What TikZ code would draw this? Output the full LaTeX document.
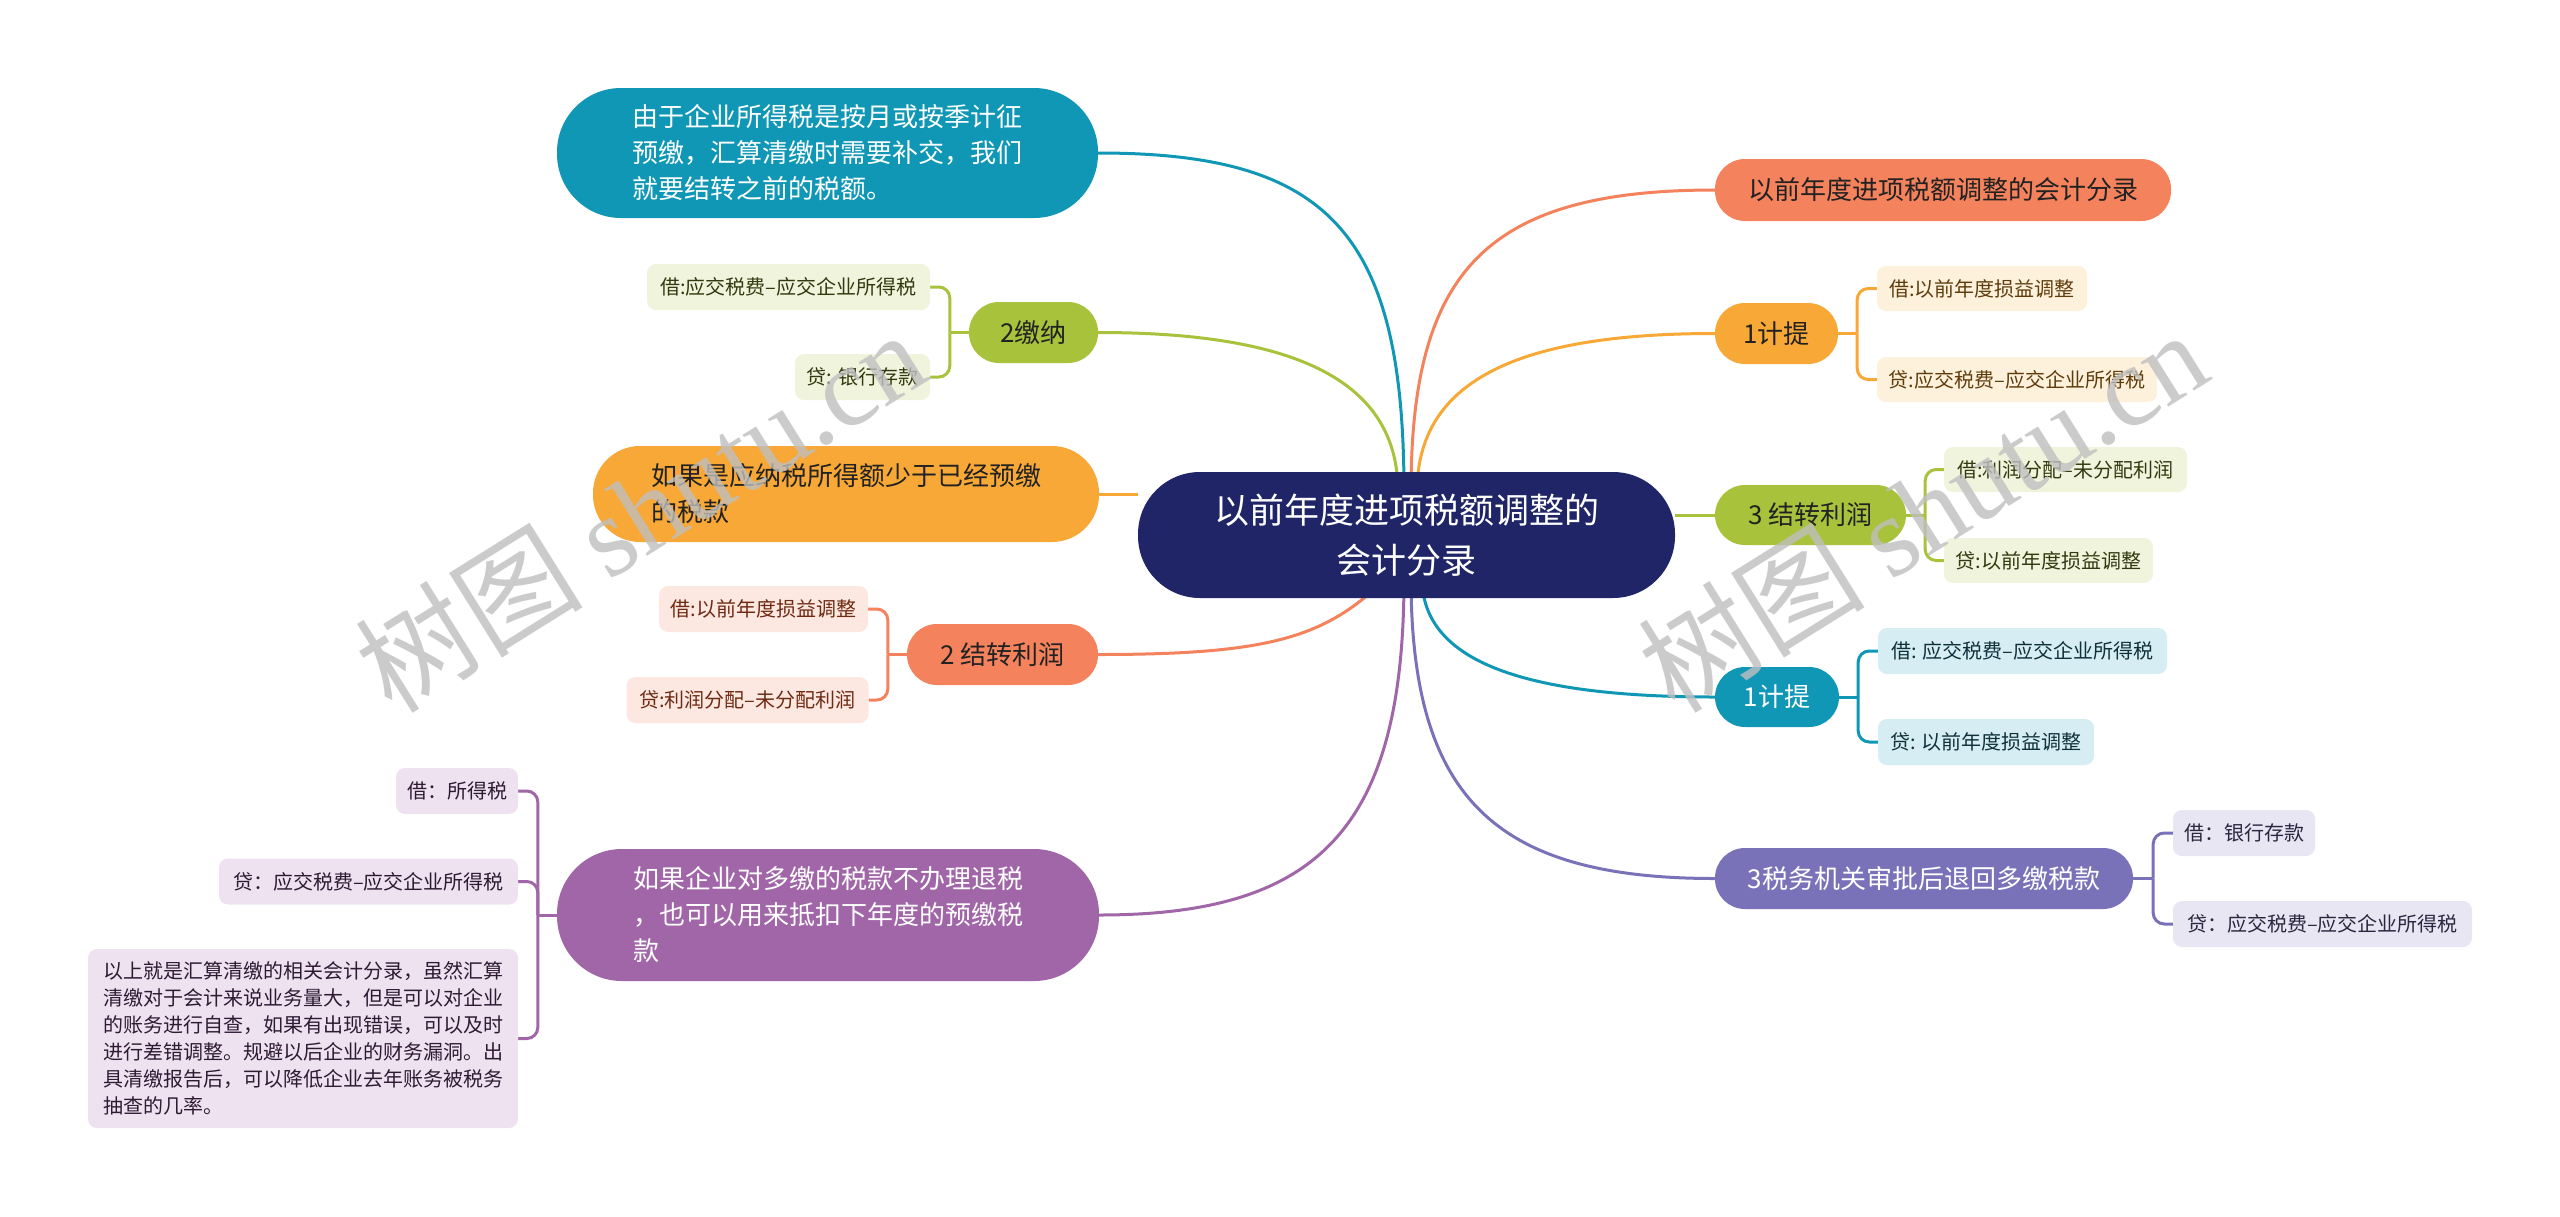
\documentclass[tikz,border=0pt]{standalone}
\usepackage{fontspec}
\setmainfont{Noto Sans CJK SC}
\newfontfamily\wmserif{Liberation Serif}
\usetikzlibrary{backgrounds}
\definecolor{croot}{HTML}{1F2566}
\definecolor{cteal}{HTML}{1097B5}
\definecolor{cgreen}{HTML}{A8C23C}
\definecolor{corange}{HTML}{F8A836}
\definecolor{ccoral}{HTML}{F4825C}
\definecolor{cpurple}{HTML}{A066A8}
\definecolor{cviolet}{HTML}{7A72B8}
\definecolor{lgreen}{HTML}{F1F4DD}
\definecolor{lorange}{HTML}{FEF1DC}
\definecolor{lcoral}{HTML}{FCE8E1}
\definecolor{lteal}{HTML}{D6EEF3}
\definecolor{lpurple}{HTML}{EEE2F0}
\definecolor{lviolet}{HTML}{E8E6F3}
\definecolor{tgreen}{HTML}{333A10}
\definecolor{torange}{HTML}{5E3C0C}
\definecolor{tcoral}{HTML}{6E2A12}
\definecolor{tteal}{HTML}{10303A}
\definecolor{tpurple}{HTML}{2E1A33}
\definecolor{tviolet}{HTML}{2A2740}
\definecolor{tdark}{HTML}{222222}
\begin{document}
\begin{tikzpicture}[x=1pt,y=-1pt,
  mainnode/.style={inner sep=0pt, align=center, minimum height=61pt, rounded corners=30pt,
    font=\fontsize{26}{36}\selectfont},
  leaf/.style={inner sep=0pt, align=center, minimum height=46pt, rounded corners=9pt,
    font=\fontsize{20}{27}\selectfont},
  conn/.style={line width=3pt},
  brk/.style={line width=3pt, rounded corners=11pt},
  wm/.style={rotate=32, text=black!25, opacity=0.8, font=\fontsize{114}{114}\selectfont}
]
\useasboundingbox (0,0) rectangle (2560,1216);

% root
\node[inner sep=0pt, align=center, minimum width=537pt, minimum height=126pt, rounded corners=62pt,
  fill=croot, text=white, font=\fontsize{35}{50}\selectfont] (root) at (1406.5,535)
  {以前年度进项税额调整的\\会计分录};

% left side
\node[mainnode, fill=cteal, text=white, align=left, minimum width=541pt, minimum height=130pt, rounded corners=64pt] (tl) at (827.5,153)
  {由于企业所得税是按月或按季计征\\预缴，汇算清缴时需要补交，我们\\就要结转之前的税额。};
\node[mainnode, fill=cgreen, text=tdark, minimum width=129pt] (pay) at (1033.5,332.5) {2缴纳};
\node[leaf, fill=lgreen, text=tgreen, minimum width=283pt] (pay1) at (788.5,287) {借:应交税费–应交企业所得税};
\node[leaf, fill=lgreen, text=tgreen, minimum width=135pt] (pay2) at (862.5,377) {贷: 银行存款};
\node[mainnode, fill=corange, text=tdark, align=left, minimum width=506pt, minimum height=96pt, rounded corners=47pt] (less) at (846,494)
  {如果是应纳税所得额少于已经预缴\\的税款};
\node[mainnode, fill=ccoral, text=tdark, minimum width=191pt] (c2l) at (1002.5,654.5) {2 结转利润};
\node[leaf, fill=lcoral, text=tcoral, minimum width=209pt] (c2l1) at (763.5,609) {借:以前年度损益调整};
\node[leaf, fill=lcoral, text=tcoral, minimum width=242pt] (c2l2) at (747.5,700) {贷:利润分配–未分配利润};
\node[mainnode, fill=cpurple, text=white, align=left, minimum width=542pt, minimum height=132pt, rounded corners=65pt] (pur) at (828,915)
  {如果企业对多缴的税款不办理退税\\，也可以用来抵扣下年度的预缴税\\款};
\node[leaf, fill=lpurple, text=tpurple, minimum width=122pt] (pur1) at (457,791) {借：所得税};
\node[leaf, fill=lpurple, text=tpurple, minimum width=299pt] (pur2) at (368.5,881.5) {贷：应交税费–应交企业所得税};
\node[leaf, fill=lpurple, text=tpurple, align=left, minimum width=430pt, minimum height=179pt] (pur3) at (303,1038.5)
  {以上就是汇算清缴的相关会计分录，虽然汇算\\清缴对于会计来说业务量大，但是可以对企业\\的账务进行自查，如果有出现错误，可以及时\\进行差错调整。规避以后企业的财务漏洞。出\\具清缴报告后，可以降低企业去年账务被税务\\抽查的几率。};

% right side
\node[mainnode, fill=ccoral, text=tdark, minimum width=456pt, minimum height=62pt] (rt1) at (1943,190) {以前年度进项税额调整的会计分录};
\node[mainnode, fill=corange, text=tdark, minimum width=123pt] (jt1) at (1776.5,333.5) {1计提};
\node[leaf, fill=lorange, text=torange, minimum width=210pt, minimum height=45pt] (jt1a) at (1982,288.5) {借:以前年度损益调整};
\node[leaf, fill=lorange, text=torange, minimum width=280pt, minimum height=45pt] (jt1b) at (2017,379.5) {贷:应交税费–应交企业所得税};
\node[mainnode, fill=cgreen, text=tdark, minimum width=191pt, minimum height=60pt] (c3) at (1810.5,515) {3 结转利润};
\node[leaf, fill=lgreen, text=tgreen, minimum width=243pt, minimum height=45pt] (c3a) at (2065.5,469.5) {借:利润分配–未分配利润};
\node[leaf, fill=lgreen, text=tgreen, minimum width=209pt, minimum height=45pt] (c3b) at (2048.5,560.5) {贷:以前年度损益调整};
\node[mainnode, fill=cteal, text=white, minimum width=124pt, minimum height=60pt] (jt2) at (1777,697) {1计提};
\node[leaf, fill=lteal, text=tteal, minimum width=289pt] (jt2a) at (2022.5,651) {借: 应交税费–应交企业所得税};
\node[leaf, fill=lteal, text=tteal, minimum width=216pt] (jt2b) at (1986,742) {贷: 以前年度损益调整};
\node[mainnode, fill=cviolet, text=white, minimum width=418pt] (tax) at (1924,878.5) {3税务机关审批后退回多缴税款};
\node[leaf, fill=lviolet, text=tviolet, minimum width=142pt] (taxa) at (2244,833) {借：银行存款};
\node[leaf, fill=lviolet, text=tviolet, minimum width=299pt] (taxb) at (2322.5,924) {贷：应交税费–应交企业所得税};

% anchor points inside root
\coordinate (rpay) at (1398,492);
\coordinate (rtl) at (1404,492);
\coordinate (rrt1) at (1411,492);
\coordinate (rjt1) at (1417,492);
\coordinate (rc2l) at (1386,578);
\coordinate (rpur) at (1404,578);
\coordinate (rtax) at (1411,578);
\coordinate (rjt2) at (1422,578);

% bracket points
\path (pay.west) ++(-19,0) coordinate (bpay);
\path (c2l.west) ++(-19,0) coordinate (bc2l);
\path (pur.west) ++(-19,0) coordinate (bpur);
\path (jt1.east) ++(19,0) coordinate (bjt1);
\path (c3.east) ++(19,0) coordinate (bc3);
\path (jt2.east) ++(19,0) coordinate (bjt2);
\path (tax.east) ++(20,0) coordinate (btax);

\begin{scope}[on background layer]
\fill[white] (0,0) rectangle (2560,1216);
% root connectors
\draw[conn, cteal] (tl.east) .. controls +(230,0) and +(0,-260) .. (rtl);
\draw[conn, cgreen] (pay.east) .. controls +(200,0) and +(0,-110) .. (rpay);
\draw[conn, ccoral] (rt1.west) .. controls +(-230,0) and +(0,-220) .. (rrt1);
\draw[conn, corange] (jt1.west) .. controls +(-200,0) and +(0,-110) .. (rjt1);
\draw[conn, corange] (less.east) -- (less.east -| root.west);
\draw[conn, cgreen] (c3.west) -- (c3.west -| root.east);
\draw[conn, ccoral] (c2l.east) .. controls +(170,0) and +(-60,60) .. (rc2l);
\draw[conn, cpurple] (pur.east) .. controls +(220,0) and +(0,250) .. (rpur);
\draw[conn, cviolet] (tax.west) .. controls +(-220,0) and +(0,220) .. (rtax);
\draw[conn, cteal] (jt2.west) .. controls +(-200,0) and +(0,80) .. (rjt2);
% brackets
\draw[conn, cgreen] (pay.west) -- (bpay);
\draw[brk, cgreen] (pay1.east) -| (bpay);
\draw[brk, cgreen] (pay2.east) -| (bpay);
\draw[conn, ccoral] (c2l.west) -- (bc2l);
\draw[brk, ccoral] (c2l1.east) -| (bc2l);
\draw[brk, ccoral] (c2l2.east) -| (bc2l);
\draw[conn, cpurple] (pur.west) -- (bpur);
\draw[brk, cpurple] (pur1.east) -| (bpur);
\draw[brk, cpurple] (pur2.east) -| (bpur);
\draw[brk, cpurple] (pur3.east) -| (bpur);
\draw[conn, corange] (jt1.east) -- (bjt1);
\draw[brk, corange] (jt1a.west) -| (bjt1);
\draw[brk, corange] (jt1b.west) -| (bjt1);
\draw[conn, cgreen] (c3.east) -- (bc3);
\draw[brk, cgreen] (c3a.west) -| (bc3);
\draw[brk, cgreen] (c3b.west) -| (bc3);
\draw[conn, cteal] (jt2.east) -- (bjt2);
\draw[brk, cteal] (jt2a.west) -| (bjt2);
\draw[brk, cteal] (jt2b.west) -| (bjt2);
\draw[conn, cviolet] (tax.east) -- (btax);
\draw[brk, cviolet] (taxa.west) -| (btax);
\draw[brk, cviolet] (taxb.west) -| (btax);
\end{scope}

% watermarks
\node[wm] (wm1) at (640,510) {树图 {\wmserif shutu.cn}};
\node[wm] (wm2) at (1922,510) {树图 {\wmserif shutu.cn}};
\end{tikzpicture}
\end{document}
